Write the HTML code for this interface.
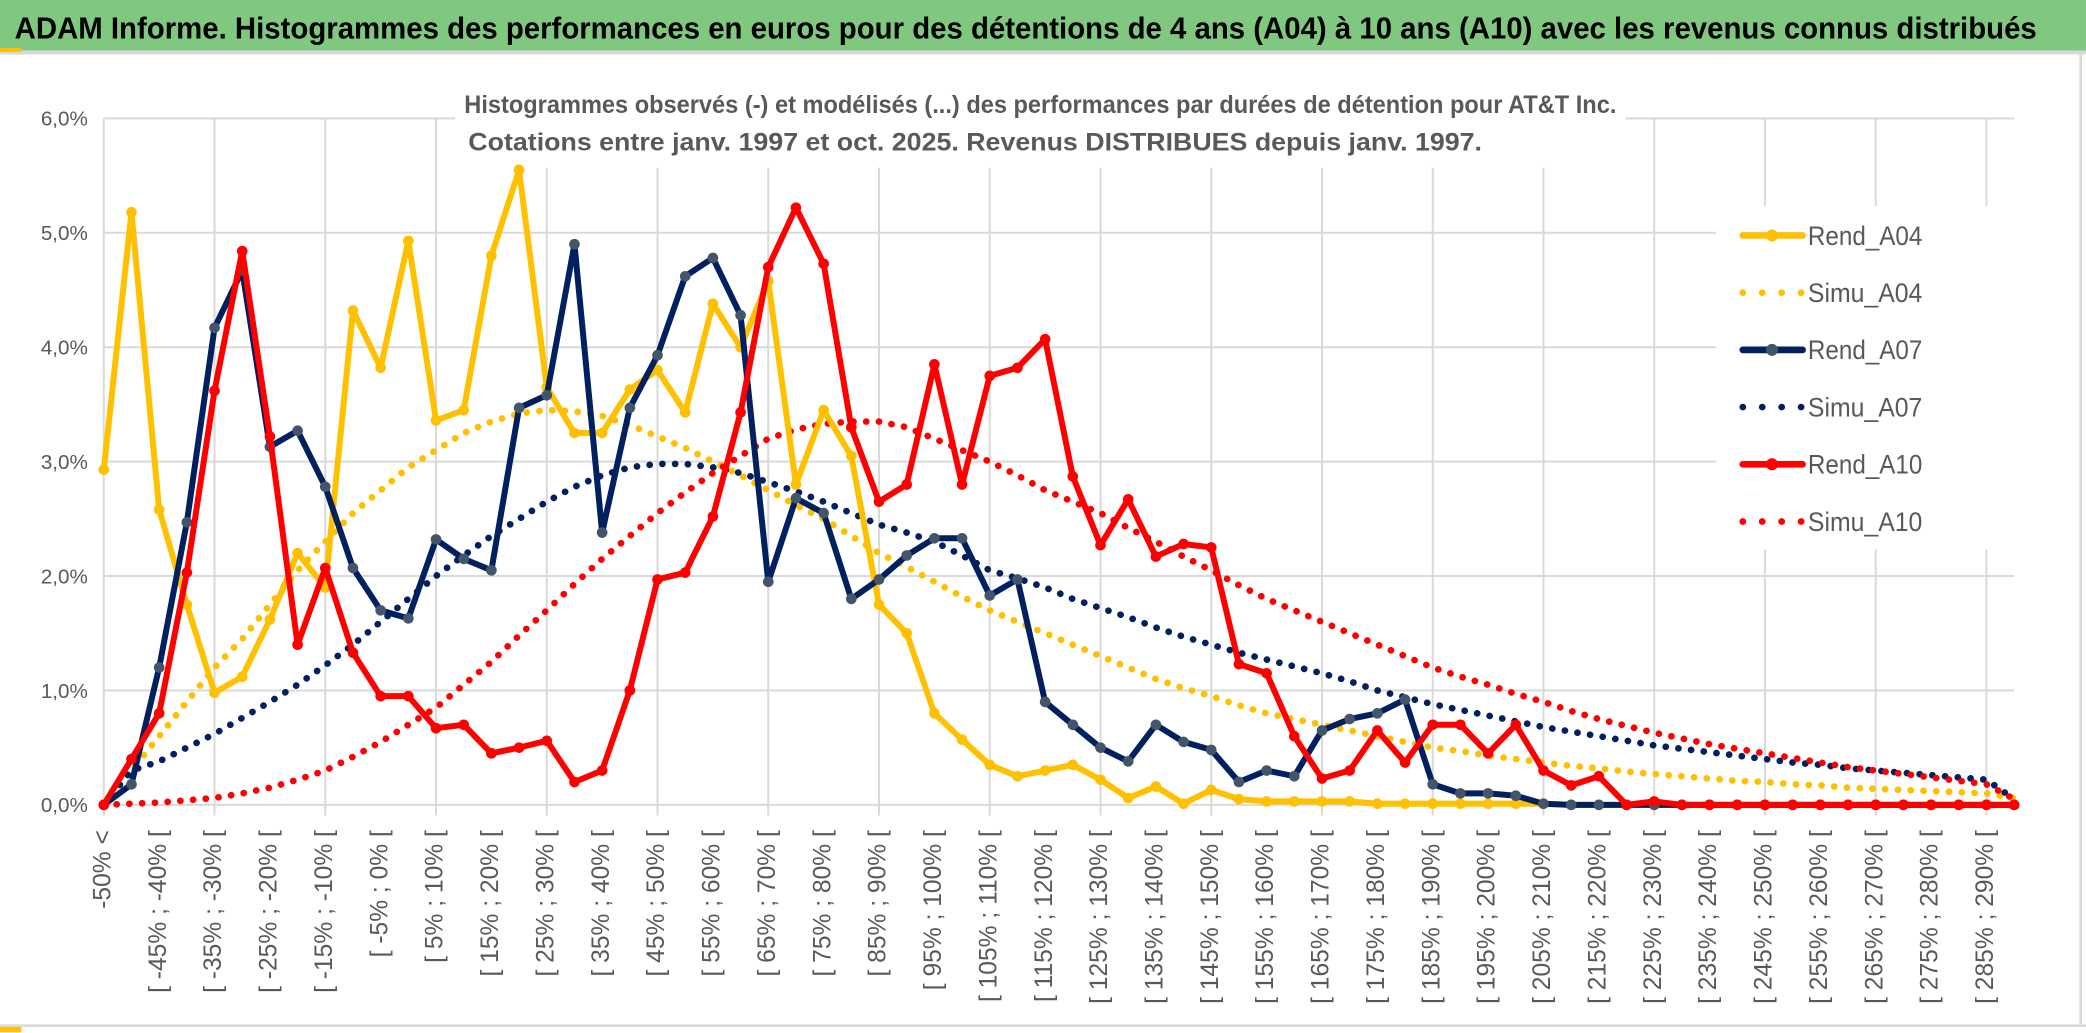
<!DOCTYPE html>
<html><head><meta charset="utf-8"><style>
html,body{margin:0;padding:0;background:#fff;width:2086px;height:1033px;overflow:hidden}
svg{display:block}
text{font-family:"Liberation Sans",sans-serif}
</style></head><body>
<svg id="chart" width="2086" height="1033" viewBox="0 0 1568 776.5" xmlns="http://www.w3.org/2000/svg">
<rect x="0" y="0" width="1568" height="776.5" fill="#fff"/>
<rect x="0" y="0" width="1568" height="38" fill="#80c880"/>
<text x="11" y="29" font-size="23" font-weight="bold" fill="#000" textLength="1520" lengthAdjust="spacingAndGlyphs">ADAM Informe. Histogrammes des performances en euros pour des détentions de 4 ans (A04) à 10 ans (A10) avec les revenus connus distribués</text>
<rect x="0" y="38" width="1568" height="3" fill="#d9d9d9"/>
<rect x="0" y="36" width="16" height="3" fill="#ffc000"/>
<rect x="0" y="770" width="1568" height="2" fill="#d9d9d9"/>
<rect x="0" y="772" width="16" height="4" fill="#ffc000"/>
<rect x="1563" y="41" width="2" height="729" fill="#d9d9d9"/>
<g id="grid"></g>
<rect x="342" y="60" width="880" height="66" fill="#fff"/>
<text x="782" y="85" font-size="19" font-weight="bold" fill="#595959" text-anchor="middle" textLength="866" lengthAdjust="spacingAndGlyphs">Histogrammes observés (-) et modélisés (...) des performances par durées de détention pour AT&amp;T Inc.</text>
<text x="733" y="113" font-size="19" font-weight="bold" fill="#595959" text-anchor="middle" textLength="762" lengthAdjust="spacingAndGlyphs">Cotations entre janv. 1997 et oct. 2025. Revenus DISTRIBUES depuis janv. 1997.</text>
<rect x="1290" y="155" width="248" height="258" fill="#fff"/>
<g id="series"></g>
<g id="legend"></g>
<g id="axes"></g>
</svg>
<script>
const lows = [];
for (let v = -50; v <= 290; v += 5) lows.push(v);
const categories = ["-50% <"].concat(lows.slice(0, 69).map(v => "[ " + v + "% ; " + (v + 5) + "% ["));
const yTicks = [0, 1, 2, 3, 4, 5, 6];
const yTickLabels = ["0,0%", "1,0%", "2,0%", "3,0%", "4,0%", "5,0%", "6,0%"];
const rendA04 = [2.93,5.18,2.58,1.75,0.98,1.12,1.62,2.2,1.9,4.32,3.82,4.93,3.36,3.45,4.8,5.55,3.65,3.25,3.25,3.63,3.8,3.43,4.38,4.0,4.58,2.8,3.45,3.05,1.75,1.5,0.8,0.57,0.35,0.25,0.3,0.35,0.22,0.06,0.16,0.01,0.13,0.05,0.03,0.03,0.03,0.03,0.01,0.01,0.01,0.01,0.01,0.01,0.01,0,0,0,0,0,0,0,0,0,0,0,0,0,0,0,0,0];
const simuA04 = [0,0.3,0.6,0.9,1.2,1.45,1.75,2.05,2.3,2.55,2.75,2.95,3.1,3.25,3.35,3.42,3.45,3.44,3.4,3.32,3.22,3.12,3.0,2.88,2.75,2.62,2.5,2.35,2.2,2.08,1.95,1.82,1.7,1.6,1.5,1.4,1.3,1.2,1.1,1.02,0.95,0.87,0.8,0.75,0.7,0.65,0.6,0.55,0.5,0.47,0.43,0.4,0.37,0.34,0.32,0.29,0.27,0.25,0.23,0.21,0.2,0.18,0.17,0.15,0.14,0.13,0.12,0.11,0.1,0.06];
const rendA07 = [0,0.18,1.2,2.47,4.17,4.67,3.13,3.27,2.78,2.07,1.7,1.63,2.32,2.15,2.05,3.47,3.58,4.9,2.38,3.47,3.93,4.62,4.78,4.28,1.95,2.68,2.55,1.8,1.97,2.18,2.33,2.33,1.83,1.97,0.9,0.7,0.5,0.38,0.7,0.55,0.48,0.2,0.3,0.25,0.65,0.75,0.8,0.92,0.18,0.1,0.1,0.08,0.01,0,0,0,0,0,0,0,0,0,0,0,0,0,0,0,0,0];
const simuA07 = [0,0.3,0.38,0.5,0.62,0.76,0.9,1.05,1.22,1.4,1.6,1.8,2.0,2.18,2.35,2.5,2.65,2.78,2.88,2.95,2.98,2.98,2.95,2.9,2.82,2.74,2.65,2.55,2.45,2.38,2.3,2.18,2.05,1.98,1.9,1.8,1.72,1.64,1.55,1.47,1.4,1.33,1.27,1.21,1.15,1.08,1.0,0.94,0.88,0.83,0.78,0.73,0.68,0.64,0.6,0.56,0.52,0.49,0.46,0.43,0.4,0.37,0.35,0.32,0.3,0.28,0.26,0.24,0.22,0.05];
const rendA10 = [0,0.4,0.8,2.03,3.62,4.84,3.22,1.4,2.07,1.33,0.95,0.95,0.67,0.7,0.45,0.5,0.56,0.2,0.3,1.0,1.97,2.03,2.52,3.43,4.7,5.22,4.73,3.3,2.65,2.8,3.85,2.8,3.75,3.82,4.07,2.87,2.27,2.67,2.17,2.28,2.25,1.23,1.15,0.6,0.23,0.3,0.65,0.37,0.7,0.7,0.45,0.7,0.3,0.17,0.25,0,0.03,0,0,0,0,0,0,0,0,0,0,0,0,0];
const simuA10 = [0,0.01,0.02,0.04,0.06,0.1,0.15,0.22,0.3,0.42,0.55,0.7,0.85,1.05,1.25,1.48,1.7,1.93,2.15,2.35,2.55,2.73,2.9,3.05,3.2,3.28,3.33,3.35,3.35,3.3,3.2,3.1,3.0,2.88,2.75,2.65,2.55,2.42,2.3,2.17,2.05,1.92,1.8,1.7,1.6,1.5,1.4,1.3,1.2,1.12,1.05,0.97,0.9,0.82,0.75,0.69,0.63,0.58,0.53,0.49,0.45,0.41,0.37,0.33,0.3,0.27,0.24,0.21,0.18,0.05];

const NS = "http://www.w3.org/2000/svg";
const X0 = 78, X1 = 1514, Y0 = 605, PER = 86;
function xS(i){ return X0 + i * (X1 - X0) / (categories.length - 1); }
function yS(v){ return Y0 - v * PER; }
function mk(tag, attrs, parent){
  const e = document.createElementNS(NS, tag);
  for (const k in attrs) e.setAttribute(k, attrs[k]);
  parent.appendChild(e);
  return e;
}
const grid = document.getElementById("grid");
const axes = document.getElementById("axes");
const series = document.getElementById("series");
const legend = document.getElementById("legend");

yTicks.forEach((t, k) => {
  const l = mk("line", {x1: X0, x2: X1, y1: yS(t), y2: yS(t), stroke: "#d9d9d9", "stroke-width": 1.5}, grid);
  
  
  const tx = mk("text", {x: 66, y: yS(t) + 5.5, "font-size": 15.5, fill: "#595959", "text-anchor": "end"}, axes);
  tx.textContent = yTickLabels[k];
  
  
});
for (let i = 0; i < categories.length; i += 4) {
  const l = mk("line", {x1: xS(i), x2: xS(i), y1: yS(6), y2: Y0 + 8, stroke: "#d9d9d9", "stroke-width": 1.5}, grid);
  
  
}
for (let i = 0; i < categories.length; i += 2) {
  const x = xS(i) + 5, y = 624;
  const tx = mk("text", {x: x, y: y, "font-size": 18.5, fill: "#595959", "text-anchor": "end", transform: "rotate(-90 " + x + " " + y + ")"}, axes);
  tx.textContent = categories[i];
  
  
}

function drawSolid(vals, color, mcolor, name){
  const pts = vals.map((v, i) => xS(i) + "," + yS(v)).join(" ");
  const pl = mk("polyline", {points: pts, fill: "none", stroke: color, "stroke-width": 4.5, "stroke-linejoin": "round"}, series);
  
  
  vals.forEach((v, i) => {
    const c = mk("circle", {cx: xS(i), cy: yS(v), r: 4, fill: mcolor}, series);
    
    
  });
}
function drawDotted(vals, color, name){
  const pts = vals.map((v, i) => xS(i) + "," + yS(v)).join(" ");
  const pl = mk("polyline", {points: pts, fill: "none", stroke: color, "stroke-width": 5, "stroke-linecap": "round", "stroke-dasharray": "0.1 9.5"}, series);
  
  
}
drawDotted(simuA04, "#ffc000", "simu-a04");
drawDotted(simuA07, "#002060", "simu-a07");
drawDotted(simuA10, "#ff0000", "simu-a10");
drawSolid(rendA04, "#ffc000", "#ffc000", "rend-a04");
drawSolid(rendA07, "#002060", "#44546a", "rend-a07");
drawSolid(rendA10, "#ff0000", "#ff0000", "rend-a10");

const legItems = [["Rend_A04","#ffc000","#ffc000",false],["Simu_A04","#ffc000","",true],["Rend_A07","#002060","#44546a",false],["Simu_A07","#002060","",true],["Rend_A10","#ff0000","#ff0000",false],["Simu_A10","#ff0000","",true]];
legItems.forEach((it, k) => {
  const y = 177 + k * 43;
  const g = mk("g", {}, legend);
  
  
  if (it[3]) {
    mk("line", {x1: 1310, x2: 1354, y1: y, y2: y, stroke: it[1], "stroke-width": 5, "stroke-linecap": "round", "stroke-dasharray": "0.1 14.5"}, g);
  } else {
    mk("line", {x1: 1310, x2: 1355, y1: y, y2: y, stroke: it[1], "stroke-width": 5, "stroke-linecap": "round"}, g);
    mk("circle", {cx: 1332, cy: y, r: 4.5, fill: it[2]}, g);
  }
  const t = mk("text", {x: 1359, y: y + 7, "font-size": 20, fill: "#595959", textLength: 86, lengthAdjust: "spacingAndGlyphs"}, g);
  t.textContent = it[0];
});
</script>
</body></html>
